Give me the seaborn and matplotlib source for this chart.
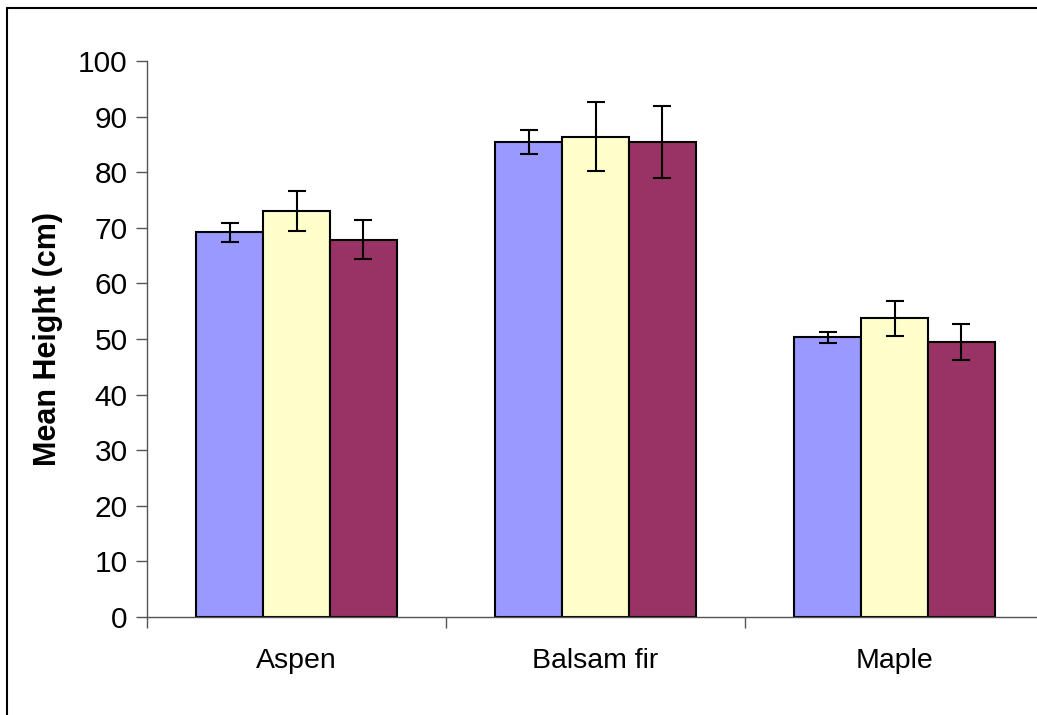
import pandas as pd
import matplotlib.pyplot as plt
from matplotlib.lines import Line2D
import seaborn as sns

# data
species = ["Aspen", "Balsam fir", "Maple"]
groups = ["Group 1", "Group 2", "Group 3"]
mean_height = {
    "Group 1": [69.2, 85.5, 50.3],
    "Group 2": [73.0, 86.4, 53.7],
    "Group 3": [67.9, 85.5, 49.4],
}
err_height = {
    "Group 1": [1.75, 2.15, 1.05],
    "Group 2": [3.6, 6.2, 3.2],
    "Group 3": [3.45, 6.5, 3.25],
}
colors = ["#9999FF", "#FFFFCC", "#993366"]

rows = []
for g in groups:
    for i, sp in enumerate(species):
        rows.append({"species": sp, "group": g,
                     "height": mean_height[g][i], "err": err_height[g][i]})
df = pd.DataFrame(rows)

sns.set_theme(style="white")
plt.rcParams["font.family"] = ["Liberation Sans", "DejaVu Sans"]

fig = plt.figure(figsize=(10.37, 7.15), dpi=100)
ax = fig.add_axes([0.1418, 0.137, 0.865, 0.7776])

sns.barplot(data=df, x="species", y="height", hue="group", order=species,
            hue_order=groups, palette=colors, width=0.67, errorbar=None,
            edgecolor="black", linewidth=1.5, saturation=1, legend=False, ax=ax)

# error bars on the bar centres
for g, cont in zip(groups, ax.containers):
    xs = [p.get_x() + p.get_width() / 2 for p in cont.patches]
    ys = [p.get_height() for p in cont.patches]
    ax.errorbar(xs, ys, yerr=err_height[g], fmt="none", ecolor="black",
                elinewidth=1.5, capsize=6.5, capthick=1.5, zorder=5)

ax.set_ylim(0, 100)
ax.set_xlim(-0.5, 2.5)
ax.set_yticks(range(0, 101, 10))
ax.set_xticks(range(len(species)))
ax.set_xticks([-0.5, 0.5, 1.5, 2.5], minor=True)
ax.tick_params(axis="x", which="major", length=0, pad=22, labelsize=20.5,
               labelcolor="black")
ax.tick_params(axis="x", which="minor", length=8, width=1, color="#555555",
               direction="out", bottom=True)
ax.tick_params(axis="y", length=8, width=1, color="#555555", direction="out",
               left=True, pad=6, labelsize=21.5, labelcolor="black")
ax.set_xlabel("")
ax.set_ylabel("Mean Height (cm)", fontsize=22, fontweight="bold", color="black")
ax.yaxis.set_label_coords(-0.094, 0.5)

for s in ["top", "right"]:
    ax.spines[s].set_visible(False)
for s in ["left", "bottom"]:
    ax.spines[s].set_color("#555555")
    ax.spines[s].set_linewidth(1)

# frame of the chart area (top and left edge visible)
fig.add_artist(Line2D([0.00675, 1.0], [0.9888, 0.9888], color="black", lw=1.5))
fig.add_artist(Line2D([0.00675, 0.00675], [0.0, 0.9888], color="black", lw=1.5))

fig.savefig("out.png", dpi=100)
